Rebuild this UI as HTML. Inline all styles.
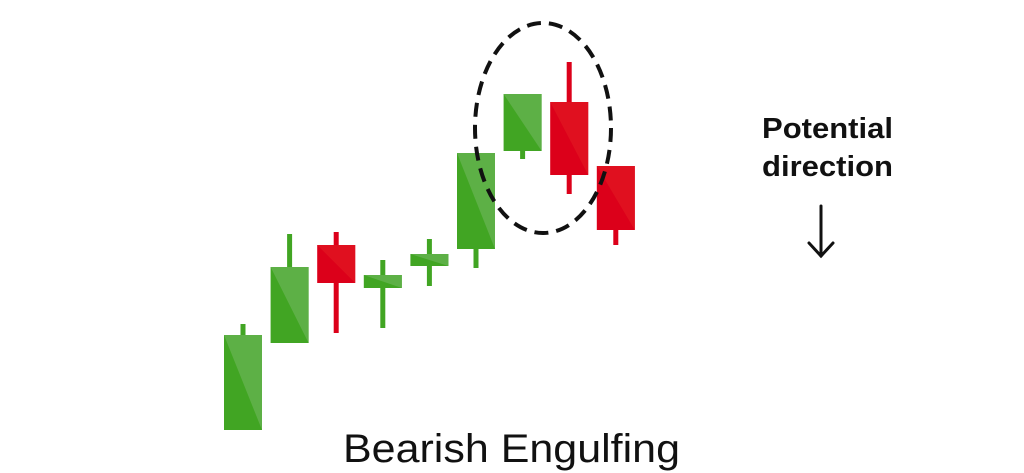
<!DOCTYPE html>
<html><head><meta charset="utf-8"><style>
html,body{margin:0;padding:0;background:#fff;width:1024px;height:473px;overflow:hidden}
svg{display:block}
</style></head><body>
<svg id="chart" width="1024" height="473" viewBox="0 0 1024 473" xmlns="http://www.w3.org/2000/svg">
<g id="candles"></g>
<ellipse cx="543" cy="128" rx="68" ry="105" fill="none" stroke="#111" stroke-width="4" stroke-dasharray="14,8"/>
<text x="762" y="138" textLength="131" lengthAdjust="spacingAndGlyphs" font-family="Liberation Sans, sans-serif" font-weight="bold" font-size="29" fill="#111">Potential</text>
<text x="762" y="176" textLength="131" lengthAdjust="spacingAndGlyphs" font-family="Liberation Sans, sans-serif" font-weight="bold" font-size="29" fill="#111">direction</text>
<g stroke="#111" stroke-width="3" fill="none" stroke-linecap="round">
<line x1="821" y1="206" x2="821" y2="256"/>
<polyline points="809,243 821,256 833,243"/>
</g>
<text x="343" y="462" textLength="337" lengthAdjust="spacingAndGlyphs" font-family="Liberation Sans, sans-serif" font-size="40" fill="#111">Bearish Engulfing</text>
</svg>
<script>
// values: price units (higher = up)
const opens  = [10, 97, 195, 152, 174, 191, 289, 338, 274];
const closes = [105,173, 157, 165, 186, 287, 346, 265, 210];
const highs  = [116,206, 208, 180, 201, 287, 346, 378, 274];
const lows   = [10, 97, 107, 112, 154, 172, 281, 246, 195];
const xPos = i => 224 + i*46.6;
const yPos = v => 440 - v;
const W = 38;
const g = document.getElementById('candles');
const NS = 'http://www.w3.org/2000/svg';
for (let i=0;i<opens.length;i++){
  const up = closes[i] >= opens[i];
  const dark = up ? '#41a523' : '#dc001a';
  const light = up ? '#5db046' : '#e0101f';
  const x0 = xPos(i), cx = x0 + W/2;
  const top = yPos(Math.max(opens[i],closes[i])), bot = yPos(Math.min(opens[i],closes[i]));
  const wick = document.createElementNS(NS,'rect');
  
  
  wick.setAttribute('x',cx-2.5); wick.setAttribute('width',5);
  wick.setAttribute('y',yPos(highs[i])); wick.setAttribute('height',yPos(lows[i])-yPos(highs[i]));
  wick.setAttribute('fill',dark); g.appendChild(wick);
  const body = document.createElementNS(NS,'rect');
  
  
  body.setAttribute('x',x0); body.setAttribute('width',W);
  body.setAttribute('y',top); body.setAttribute('height',Math.max(bot-top,1));
  body.setAttribute('fill',dark); g.appendChild(body);
  const tri = document.createElementNS(NS,'polygon');
  
  
  tri.setAttribute('points',`${x0},${top} ${x0+W},${top} ${x0+W},${bot}`);
  tri.setAttribute('fill',light); g.appendChild(tri);
}
</script>
</body></html>
